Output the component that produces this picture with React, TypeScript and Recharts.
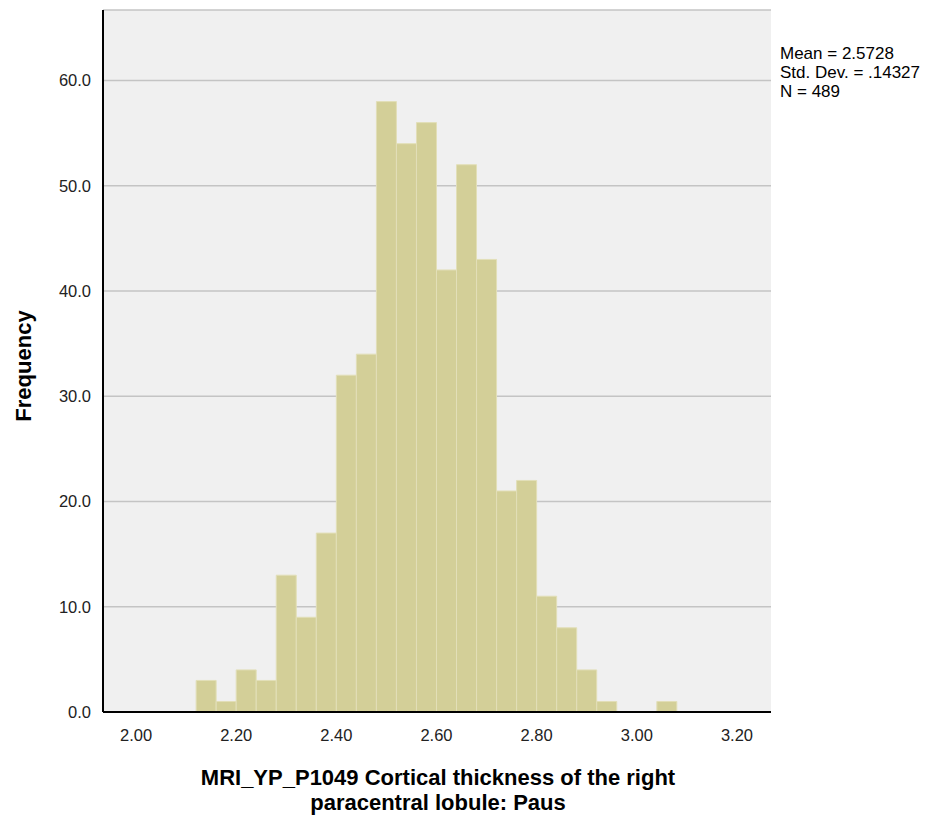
import { Bar, CartesianGrid, ComposedChart, XAxis, YAxis } from "recharts";

// bin centres (width .04) and counts
const binCenters = [
  2.14, 2.18, 2.22, 2.26, 2.3, 2.34, 2.38, 2.42, 2.46, 2.5, 2.54, 2.58,
  2.62, 2.66, 2.7, 2.74, 2.78, 2.82, 2.86, 2.9, 2.94, 2.98, 3.02, 3.06,
];
const counts = [
  3, 1, 4, 3, 13, 9, 17, 32, 34, 58, 54, 56, 42, 52, 43, 21, 22, 11, 8, 4, 1,
  0, 0, 1,
];
const xTicks = [2.0, 2.2, 2.4, 2.6, 2.8, 3.0, 3.2];
const yTicks = [0, 10, 20, 30, 40, 50, 60];
const statLines = ["Mean = 2.5728", "Std. Dev. = .14327", "N = 489"];

const chartData = binCenters.map((x, i) => ({ x, count: counts[i] }));

const font = "'Liberation Sans', Arial, sans-serif";

export default function App() {
  return (
    <div
      style={{
        position: "absolute",
        left: 0,
        top: 0,
        width: 933,
        height: 821,
        background: "#fff",
        fontFamily: font,
      }}
    >
      <ComposedChart
        width={933}
        height={821}
        data={chartData}
        margin={{ top: 10, right: 162, left: 0, bottom: 0 }}
        barCategoryGap={0}
        barGap={0}
      >
        <CartesianGrid
          vertical={false}
          stroke="#c4c4c4"
          strokeWidth={1.5}
          fill="#f0f0f0"
          fillOpacity={1}
        />
        <XAxis
          dataKey="x"
          type="number"
          domain={[1.934, 3.268]}
          ticks={xTicks}
          tickFormatter={(v: number) => v.toFixed(2)}
          height={109}
          tickLine={false}
          tickMargin={11}
          axisLine={{ stroke: "#000", strokeWidth: 2 }}
          tick={{ fill: "#222", fontSize: 16.5, fontFamily: font }}
          allowDataOverflow
        />
        <XAxis
          xAxisId="top"
          orientation="top"
          dataKey="x"
          type="number"
          domain={[1.934, 3.268]}
          height={0}
          tick={false}
          tickLine={false}
          axisLine={{ stroke: "#555", strokeWidth: 2 }}
        />
        <YAxis
          type="number"
          domain={[0, 66.7]}
          ticks={yTicks}
          tickFormatter={(v: number) => v.toFixed(1)}
          width={103}
          tickLine={false}
          tickMargin={6}
          axisLine={{ stroke: "#000", strokeWidth: 2 }}
          tick={{ fill: "#222", fontSize: 16.5, fontFamily: font }}
          allowDataOverflow
        />
        <YAxis
          yAxisId="right"
          orientation="right"
          width={0}
          tick={false}
          tickLine={false}
          axisLine={{ stroke: "#888", strokeWidth: 2 }}
        />
        <Bar
          dataKey="count"
          fill="#d3cf98"
          stroke="#e2dfb8"
          strokeWidth={1}
          barSize={20}
          isAnimationActive={false}
        />
        <text
          x={23}
          y={366}
          transform="rotate(-90 23 366)"
          textAnchor="middle"
          dominantBaseline="central"
          fontSize={22}
          fontWeight="bold"
          fontFamily={font}
          fill="#000"
        >
          Frequency
        </text>
        <text
          x={438}
          y={785}
          textAnchor="middle"
          fontSize={22}
          fontWeight="bold"
          fontFamily={font}
          fill="#000"
        >
          MRI_YP_P1049 Cortical thickness of the right
        </text>
        <text
          x={438}
          y={810}
          textAnchor="middle"
          fontSize={22}
          fontWeight="bold"
          fontFamily={font}
          fill="#000"
        >
          paracentral lobule: Paus
        </text>
        {statLines.map((s, i) => (
          <text
            key={s}
            x={780}
            y={59 + i * 19}
            fontSize={17}
            fontFamily={font}
            fill="#000"
          >
            {s}
          </text>
        ))}
      </ComposedChart>
    </div>
  );
}
